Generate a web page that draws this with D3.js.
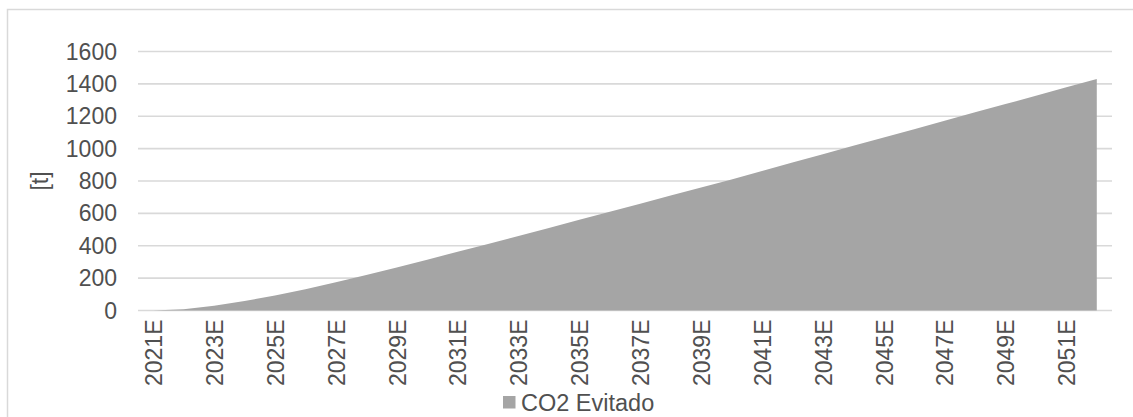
<!DOCTYPE html>
<html>
<head>
<meta charset="utf-8">
<script src="https://cdn.jsdelivr.net/npm/d3@7"></script>
<style>
  html, body { margin: 0; padding: 0; background: #fff; }
  svg { display: block; font-family: "Liberation Sans", Arial, sans-serif; }
</style>
</head>
<body>
<svg id="chart" width="1133" height="417"></svg>
<script>
// Years of the projection (estimated)
const years = ["2021E","2022E","2023E","2024E","2025E","2026E","2027E","2028E",
  "2029E","2030E","2031E","2032E","2033E","2034E","2035E","2036E","2037E","2038E",
  "2039E","2040E","2041E","2042E","2043E","2044E","2045E","2046E","2047E","2048E",
  "2049E","2050E","2051E","2052E"];

// Cumulative avoided CO2, tonnes
const co2Avoided = [0, 8, 30, 58, 93, 132, 174, 219, 266, 314, 363, 411, 460, 510,
  560, 610, 660, 710, 760, 810, 862, 914, 965, 1017, 1069, 1120, 1172, 1224,
  1275, 1327, 1379, 1430];

const yTicks = [0, 200, 400, 600, 800, 1000, 1200, 1400, 1600];
const seriesName = "CO2 Evitado";
const axisTitle = "[t]";

const svg = d3.select("#chart");
const textColor = "#505050";
const gridColor = "#d9d9d9";
const areaColor = "#a5a5a5";
const fontSize = 23;

// Chart frame
svg.append("rect")
  .attr("x", 7.5).attr("y", 9.5)
  .attr("width", 1300).attr("height", 600)
  .attr("fill", "#fff")
  .attr("stroke", gridColor).attr("stroke-width", 1.5);

const plot = { left: 138, right: 1112, top: 51.5, bottom: 310.5 };

const x = d3.scaleBand().domain(years).range([plot.left, plot.right]);
const y = d3.scaleLinear().domain([0, 1600]).range([plot.bottom, plot.top]);
const cx = d => x(d) + x.bandwidth() / 2;

// Horizontal gridlines
svg.append("g").selectAll("line").data(yTicks).join("line")
  .attr("x1", plot.left).attr("x2", plot.right)
  .attr("y1", d => y(d)).attr("y2", d => y(d))
  .attr("stroke", gridColor).attr("stroke-width", 1.6);

// Area series
const data = years.map((yr, i) => ({ yr, v: co2Avoided[i] }));
const area = d3.area()
  .x(d => cx(d.yr))
  .y0(y(0))
  .y1(d => y(d.v));
svg.append("path").datum(data)
  .attr("d", area)
  .attr("fill", areaColor);

// Y axis labels
svg.append("g").selectAll("text").data(yTicks).join("text")
  .attr("x", 117).attr("y", d => y(d))
  .attr("dy", "0.35em")
  .attr("text-anchor", "end")
  .attr("font-size", fontSize)
  .attr("fill", textColor)
  .text(d => d);

// X axis labels (every other year), rotated
const shown = years.filter((d, i) => i % 2 === 0);
svg.append("g").selectAll("text").data(shown).join("text")
  .attr("transform", d => `translate(${cx(d) + 0.5},${plot.bottom + 9}) rotate(-90)`)
  .attr("dy", "0.36em")
  .attr("text-anchor", "end")
  .attr("font-size", fontSize)
  .attr("fill", textColor)
  .text(d => d);

// Y axis title
svg.append("text")
  .attr("transform", `translate(39.5,${(plot.top + plot.bottom) / 2}) rotate(-90)`)
  .attr("dy", "0.35em")
  .attr("text-anchor", "middle")
  .attr("font-size", fontSize)
  .attr("fill", textColor)
  .text(axisTitle);

// Legend
const legend = svg.append("g").attr("transform", "translate(503,396)");
legend.append("rect")
  .attr("x", 0).attr("y", 0)
  .attr("width", 12.5).attr("height", 12.5)
  .attr("fill", areaColor);
legend.append("text")
  .attr("x", 18).attr("y", 6.5)
  .attr("dy", "0.35em")
  .attr("font-size", 23.5)
  .attr("fill", textColor)
  .text(seriesName);
</script>
</body>
</html>
